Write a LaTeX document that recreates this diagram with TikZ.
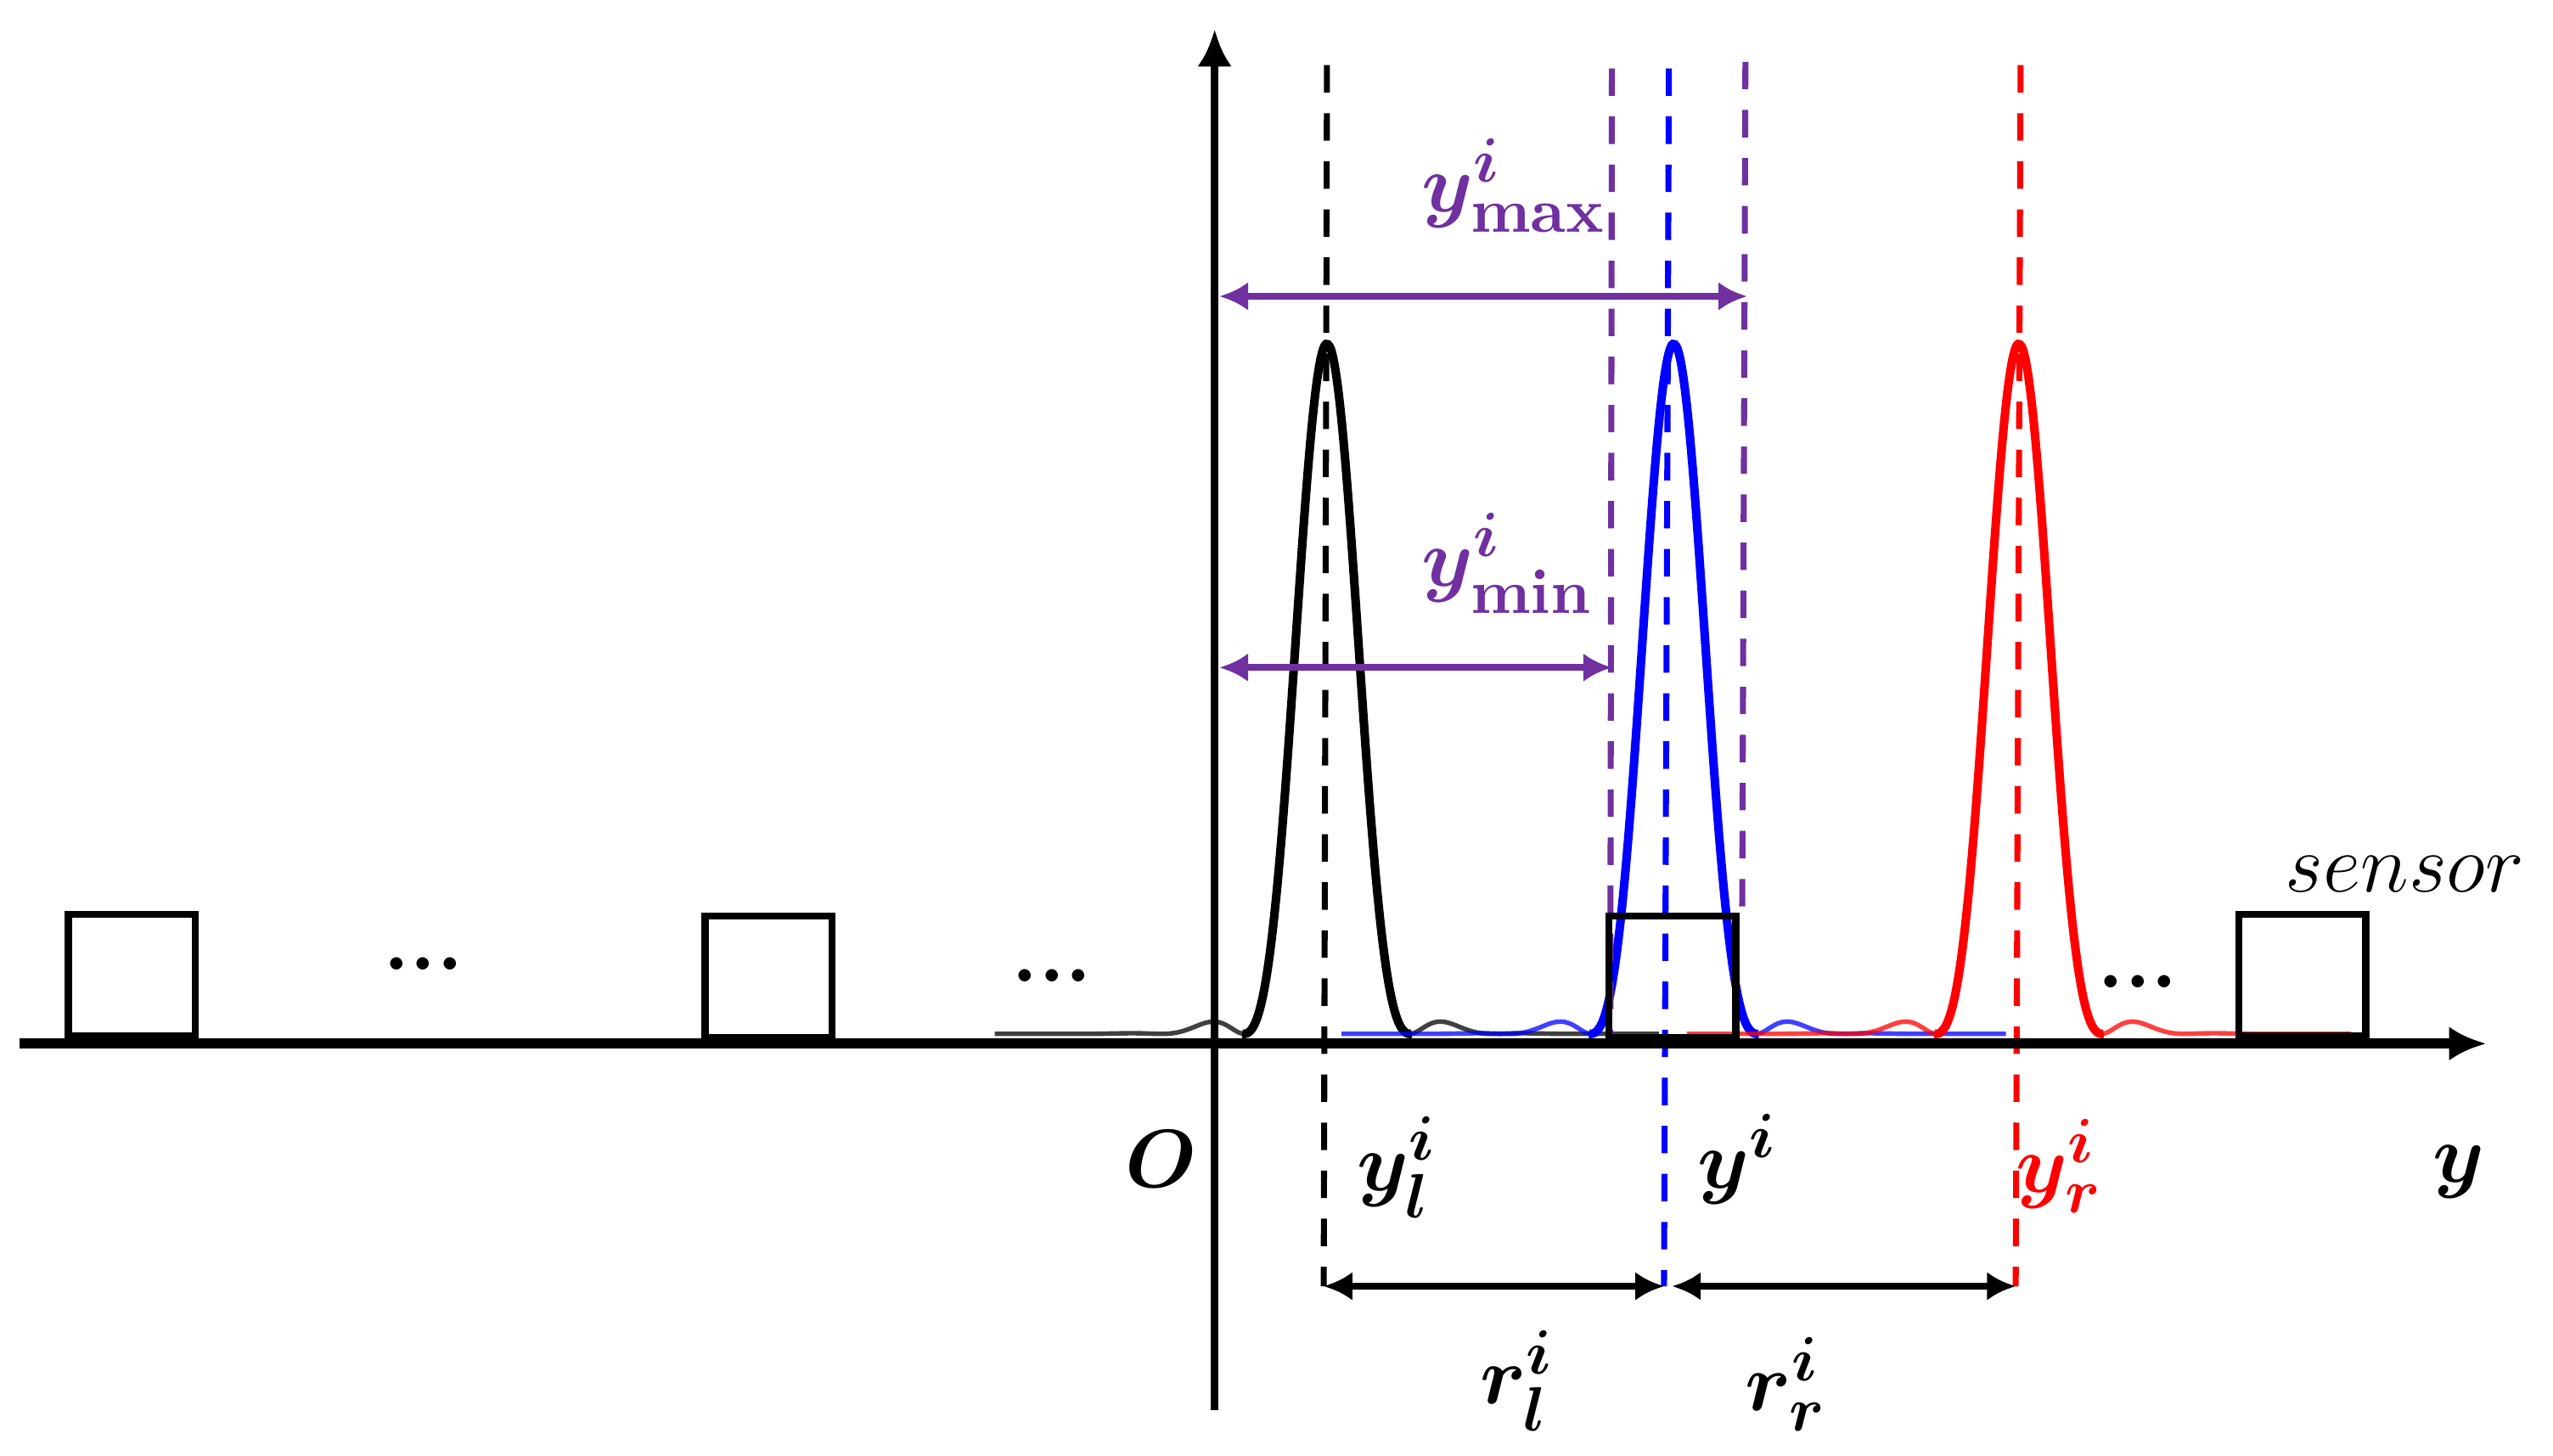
\documentclass[tikz,border=0pt]{standalone}
\usepackage{amsmath}
\usepackage{amssymb}
\usepackage{bm}
\usetikzlibrary{arrows.meta, calc}
\definecolor{mspurple}{RGB}{112,48,160}
\tikzset{>={Latex[length=5pt,width=5pt]}}
\tikzset{
    sensorbox/.style={draw, line width=1.25pt, minimum width=7.8mm, minimum height=7.5mm, inner sep=0pt},
    lobe/.style={line width=1.5pt, smooth, samples=100},
    tail/.style={line width=0.8pt, smooth, samples=60, opacity=0.75},
    guide/.style={line width=1.05pt, dash pattern=on 4.8pt off 3.6pt},
    dimarrow/.style={<->, line width=1.15pt},
    lbl/.style={font=\fontsize{15}{18}\selectfont},
}

\begin{document}
\begin{tikzpicture}[x=0.1mm, y=-0.1mm,
    declare function={sinc(\u)=sin(180*\u)/(pi*\u); peak(\u)=sinc(\u)*sinc(\u)*exp(-0.5*\u*\u);}]
    \useasboundingbox (0,0) rectangle (1568,894);

    %peak centres and guide ends
    \coordinate (Lt) at (815,40);   \coordinate (Lb) at (813,790);
    \coordinate (Ct) at (1025,42);  \coordinate (Cb) at (1022,790);
    \coordinate (Rt) at (1241,40);  \coordinate (Rb) at (1238,790);
    \coordinate (Mt) at (990,42);   \coordinate (Mb) at (989,640);
    \coordinate (Nt) at (1072,38);  \coordinate (Nb) at (1070,562);

    %peaks
    \foreach \c/\col in {815/black, 1028/blue, 1240/red}
    {
        \draw[lobe, \col] plot[domain=-1.02:1.02] ({\c+51*\x},{635-424*peak(\x)});
        \draw[tail, \col] plot[domain=1:4] ({\c+51*\x},{635-424*peak(\x)});
        \draw[tail, \col] plot[domain=-4:-1] ({\c+51*\x},{635-424*peak(\x)});
    }

    %guides
    \draw[guide, black] (Lt) -- (Lb);
    \draw[guide, blue] (Ct) -- (Cb);
    \draw[guide, red] (Rt) -- (Rb);
    \draw[guide, mspurple] (Mt) -- (Mb);
    \draw[guide, mspurple] (Nt) -- (Nb);

    %sensors
    \node[sensorbox] (s1) at (81,599) {};
    \node[sensorbox] (s2) at (472,600) {};
    \node[sensorbox] (s3) at (1027,600) {};
    \node[sensorbox] (s4) at (1414,599) {};
    \node[lbl] (sens) at (1477,537) {$sensor$};
    \node[lbl] (d1) at (260,592) {\textbf{...}};
    \node[lbl] (d2) at (646,599) {\textbf{...}};
    \node[lbl] (d3) at (1313,603) {\textbf{...}};

    %axes
    \coordinate (xl) at (12,641);  \coordinate (xr) at (1527,641);
    \coordinate (yb) at (746,866); \coordinate (yt) at (746,18);
    \draw[line width=1.8pt, -{Latex[length=6.5pt,width=6pt]}] (xl) -- (xr);
    \draw[line width=1.3pt, -{Latex[length=6.5pt,width=6pt]}] (yb) -- (yt);

    %purple spans
    \coordinate (A1) at (749,182);  \coordinate (A2) at (1073,182);
    \coordinate (B1) at (749,410);  \coordinate (B2) at (990,410);
    \draw[dimarrow, mspurple] (A1) -- (A2);
    \draw[dimarrow, mspurple] (B1) -- (B2);
    \node[lbl, mspurple] (ymax) at (930,114) {$\boldsymbol{y}^{\boldsymbol{i}}_{\mathbf{max}}$};
    \node[lbl, mspurple] (ymin) at (926,346) {$\boldsymbol{y}^{\boldsymbol{i}}_{\mathbf{min}}$};

    %black spans
    \draw[dimarrow] (Lb) -- (Cb);
    \draw[dimarrow] ($(Cb)+(5,0)$) -- (Rb);
    \node[lbl] (rl) at (932,848) {$\boldsymbol{r^i_l}$};
    \node[lbl] (rr) at (1097,850) {$\boldsymbol{r^i_r}$};

    %axis labels
    \node[lbl] (O) at (713,712) {$\boldsymbol{O}$};
    \node[lbl] (yl) at (858,717) {$\boldsymbol{y^i_l}$};
    \node[lbl] (yi) at (1067,712) {$\boldsymbol{y^i}$};
    \node[lbl, red] (yr) at (1265,716) {$\boldsymbol{y^i_r}$};
    \node[lbl] (y) at (1510,720) {$\boldsymbol{y}$};
\end{tikzpicture}
\end{document}
